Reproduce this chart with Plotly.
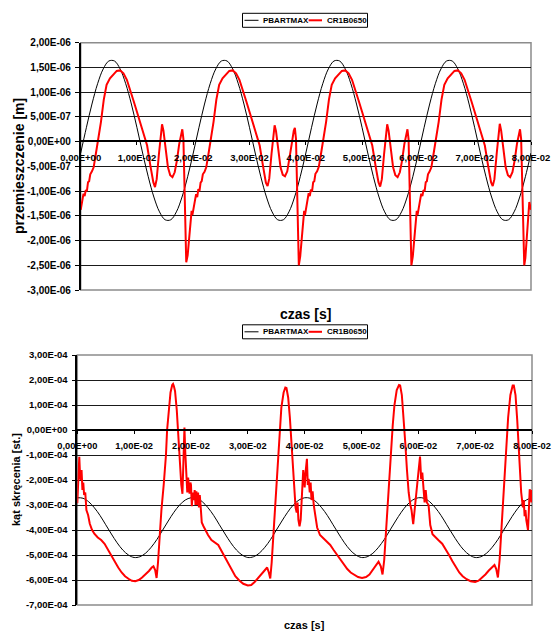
import plotly.graph_objects as go

W, H = 552, 632

# ---------------- data (time in 1e-2 s) ----------------
# top chart: displacement [1e-6 m]
blk_top_t = [round(0.1 * i, 1) for i in range(81)]
blk_top_v = [
    -0.23, 0.28, 0.76, 1.17, 1.47, 1.63, 1.63, 1.47, 1.17, 0.76, 0.28, -0.23, -0.71, -1.12, -1.42, -1.58, -1.58, -1.42, -1.12, -0.71,
    -0.23, 0.28, 0.76, 1.17, 1.47, 1.63, 1.63, 1.47, 1.17, 0.76, 0.28, -0.23, -0.71, -1.12, -1.42, -1.58, -1.58, -1.42, -1.12, -0.71,
    -0.23, 0.28, 0.76, 1.17, 1.47, 1.63, 1.63, 1.47, 1.17, 0.76, 0.28, -0.23, -0.71, -1.12, -1.42, -1.58, -1.58, -1.42, -1.12, -0.71,
    -0.23, 0.28, 0.76, 1.17, 1.47, 1.63, 1.63, 1.47, 1.17, 0.76, 0.28, -0.23, -0.71, -1.12, -1.42, -1.58, -1.58, -1.42, -1.12, -0.71,
    -0.23]

red_top = [
    (0.00, -1.38), (0.03, -1.12), (0.05, -1.05), (0.07, -1.10), (0.09, -0.98), (0.11, -1.00), (0.13, -0.82), (0.15, -0.80),
    (0.17, -0.66), (0.20, -0.60), (0.23, -0.52), (0.27, -0.24), (0.31, 0.02), (0.36, 0.40), (0.41, 0.85), (0.46, 1.15),
    (0.52, 1.28), (0.58, 1.36), (0.64, 1.43), (0.70, 1.44), (0.76, 1.38), (0.82, 1.25), (0.88, 1.05), (0.94, 0.82),
    (1.00, 0.60), (1.06, 0.38), (1.12, 0.16), (1.18, -0.08), (1.24, -0.50), (1.29, -0.82), (1.32, -0.92), (1.35, -0.76),
    (1.39, -0.25), (1.42, 0.15), (1.445, 0.35), (1.47, 0.22), (1.51, -0.20), (1.55, -0.52), (1.59, -0.68), (1.63, -0.72),
    (1.67, -0.62), (1.71, -0.38), (1.75, -0.05), (1.785, 0.20), (1.805, 0.25), (1.825, 0.05), (1.85, -1.30), (1.875, -2.44),
    (1.90, -2.30), (1.93, -1.90), (1.95, -1.55), (1.97, -1.40), (1.985, -1.48),
    (2.00, -1.38), (2.03, -1.12), (2.05, -1.06), (2.07, -1.12), (2.09, -0.96), (2.11, -1.00), (2.13, -0.83), (2.15, -0.80),
    (2.17, -0.66), (2.20, -0.61), (2.23, -0.52), (2.27, -0.25), (2.31, 0.02), (2.36, 0.40), (2.41, 0.85), (2.46, 1.15),
    (2.52, 1.28), (2.58, 1.36), (2.64, 1.43), (2.70, 1.44), (2.76, 1.38), (2.82, 1.25), (2.88, 1.05), (2.94, 0.82),
    (3.00, 0.60), (3.06, 0.38), (3.12, 0.16), (3.18, -0.08), (3.24, -0.50), (3.29, -0.83), (3.32, -0.90), (3.35, -0.75),
    (3.39, -0.25), (3.42, 0.14), (3.445, 0.33), (3.47, 0.21), (3.51, -0.20), (3.55, -0.52), (3.59, -0.67), (3.63, -0.70),
    (3.67, -0.60), (3.71, -0.36), (3.75, -0.04), (3.785, 0.22), (3.805, 0.28), (3.825, 0.05), (3.85, -1.35), (3.875, -2.50),
    (3.90, -2.32), (3.93, -1.90), (3.95, -1.55), (3.97, -1.40), (3.985, -1.48),
    (4.00, -1.38), (4.03, -1.12), (4.05, -1.04), (4.07, -1.10), (4.09, -0.97), (4.11, -1.01), (4.13, -0.82), (4.15, -0.80),
    (4.17, -0.65), (4.20, -0.60), (4.23, -0.51), (4.27, -0.24), (4.31, 0.02), (4.36, 0.40), (4.41, 0.85), (4.46, 1.15),
    (4.52, 1.28), (4.58, 1.36), (4.64, 1.43), (4.70, 1.44), (4.76, 1.38), (4.82, 1.25), (4.88, 1.05), (4.94, 0.82),
    (5.00, 0.60), (5.06, 0.38), (5.12, 0.16), (5.18, -0.08), (5.24, -0.50), (5.29, -0.82), (5.32, -0.91), (5.35, -0.76),
    (5.39, -0.25), (5.42, 0.15), (5.445, 0.35), (5.47, 0.22), (5.51, -0.20), (5.55, -0.52), (5.59, -0.68), (5.63, -0.72),
    (5.67, -0.62), (5.71, -0.38), (5.75, -0.05), (5.785, 0.20), (5.805, 0.25), (5.825, 0.05), (5.85, -1.35), (5.875, -2.50),
    (5.90, -2.32), (5.93, -1.90), (5.95, -1.55), (5.97, -1.40), (5.985, -1.48),
    (6.00, -1.38), (6.03, -1.12), (6.05, -1.05), (6.07, -1.10), (6.09, -0.98), (6.11, -1.00), (6.13, -0.82), (6.15, -0.80),
    (6.17, -0.66), (6.20, -0.60), (6.23, -0.52), (6.27, -0.24), (6.31, 0.02), (6.36, 0.40), (6.41, 0.85), (6.46, 1.15),
    (6.52, 1.28), (6.58, 1.36), (6.64, 1.43), (6.70, 1.44), (6.76, 1.38), (6.82, 1.25), (6.88, 1.05), (6.94, 0.82),
    (7.00, 0.60), (7.06, 0.38), (7.12, 0.16), (7.18, -0.08), (7.24, -0.50), (7.29, -0.82), (7.32, -0.90), (7.35, -0.76),
    (7.39, -0.25), (7.42, 0.16), (7.445, 0.36), (7.47, 0.22), (7.51, -0.20), (7.55, -0.52), (7.59, -0.68), (7.63, -0.72),
    (7.67, -0.62), (7.71, -0.38), (7.75, -0.05), (7.785, 0.20), (7.805, 0.25), (7.825, 0.05), (7.85, -1.35), (7.88, -2.50),
    (7.90, -2.35), (7.93, -1.90), (7.95, -1.45), (7.97, -1.22), (7.985, -1.30), (8.00, -1.38)]

# bottom chart: twist angle [1e-4 deg]
blk_bot_t = [round(0.1 * i, 1) for i in range(81)]
blk_bot_v = [
    -2.71, -2.73, -2.87, -3.11, -3.42, -3.79, -4.16, -4.51, -4.80, -5.00, -5.10, -5.07, -4.93, -4.69, -4.38, -4.01, -3.64, -3.29, -3.00, -2.80,
    -2.71, -2.73, -2.87, -3.11, -3.42, -3.79, -4.16, -4.51, -4.80, -5.00, -5.10, -5.07, -4.93, -4.69, -4.38, -4.01, -3.64, -3.29, -3.00, -2.80,
    -2.71, -2.73, -2.87, -3.11, -3.42, -3.79, -4.16, -4.51, -4.80, -5.00, -5.10, -5.07, -4.93, -4.69, -4.38, -4.01, -3.64, -3.29, -3.00, -2.80,
    -2.71, -2.73, -2.87, -3.11, -3.42, -3.79, -4.16, -4.51, -4.80, -5.00, -5.10, -5.07, -4.93, -4.69, -4.38, -4.01, -3.64, -3.29, -3.00, -2.80,
    -2.71]

red_bot = [
    (0.00, -2.93), (0.02, -2.00), (0.035, -1.07), (0.05, -1.90), (0.06, -2.00), (0.075, -1.60), (0.09, -2.40), (0.105, -2.10),
    (0.12, -2.60), (0.14, -2.50), (0.16, -3.20), (0.19, -3.40), (0.22, -3.75), (0.26, -4.00), (0.30, -4.15), (0.36, -4.30),
    (0.42, -4.40), (0.48, -4.55), (0.54, -4.80), (0.60, -5.00), (0.66, -5.25), (0.72, -5.50), (0.78, -5.70), (0.84, -5.85),
    (0.90, -5.95), (0.96, -6.03), (1.02, -6.05), (1.08, -6.00), (1.14, -5.90), (1.20, -5.78), (1.26, -5.64), (1.31, -5.50),
    (1.34, -5.45), (1.37, -5.60), (1.395, -5.92), (1.42, -5.30), (1.45, -4.10), (1.48, -3.20), (1.52, -2.20), (1.56, -1.00),
    (1.58, 0.00), (1.61, 0.90), (1.64, 1.50), (1.67, 1.80), (1.685, 1.84), (1.70, 1.75), (1.72, 1.55), (1.75, 0.80),
    (1.775, -0.30), (1.805, -1.30), (1.83, -2.20), (1.85, -2.55), (1.865, -1.20), (1.885, 0.10), (1.90, -0.90), (1.915, -1.60),
    (1.935, -2.50), (1.95, -1.90), (1.965, -2.30), (1.975, -2.55), (1.99, -2.10),
    (2.00, -2.20), (2.015, -3.05), (2.03, -2.50), (2.05, -2.80), (2.065, -2.40), (2.08, -3.00), (2.095, -2.45), (2.11, -3.00),
    (2.125, -2.50), (2.14, -3.10), (2.155, -2.60), (2.17, -3.05), (2.19, -3.70), (2.22, -3.85), (2.26, -4.05), (2.30, -4.20),
    (2.36, -4.40), (2.42, -4.50), (2.48, -4.60), (2.54, -4.85), (2.60, -5.10), (2.66, -5.40), (2.72, -5.65), (2.78, -5.85),
    (2.85, -6.02), (2.92, -6.15), (3.00, -6.22), (3.06, -6.20), (3.12, -6.08), (3.18, -5.92), (3.24, -5.75), (3.30, -5.58),
    (3.34, -5.50), (3.37, -5.70), (3.395, -5.94), (3.42, -5.30), (3.45, -4.20), (3.48, -3.00), (3.51, -2.10), (3.54, -1.00),
    (3.56, 0.00), (3.59, 0.90), (3.63, 1.50), (3.66, 1.70), (3.68, 1.68), (3.71, 1.30), (3.74, 0.50), (3.77, -0.60),
    (3.80, -2.00), (3.82, -2.80), (3.84, -3.10), (3.86, -3.30), (3.875, -2.90), (3.89, -3.60), (3.91, -3.85), (3.93, -3.60),
    (3.955, -2.50), (3.975, -1.60), (3.99, -1.90),
    (4.00, -2.30), (4.02, -1.60), (4.04, -1.15), (4.055, -2.20), (4.07, -1.95), (4.09, -2.50), (4.105, -2.10), (4.12, -2.80),
    (4.14, -2.45), (4.16, -3.00), (4.19, -3.50), (4.22, -3.90), (4.27, -4.20), (4.33, -4.33), (4.39, -4.45), (4.45, -4.60),
    (4.51, -4.80), (4.57, -5.00), (4.63, -5.20), (4.69, -5.40), (4.75, -5.56), (4.81, -5.70), (4.87, -5.80), (4.94, -5.88),
    (5.01, -5.92), (5.08, -5.88), (5.14, -5.78), (5.20, -5.60), (5.26, -5.40), (5.30, -5.27), (5.34, -5.45), (5.37, -5.78),
    (5.40, -5.20), (5.43, -4.10), (5.46, -2.90), (5.49, -1.80), (5.52, -0.80), (5.55, 0.20), (5.58, 1.00), (5.62, 1.60),
    (5.66, 1.80), (5.68, 1.78), (5.71, 1.40), (5.74, 0.60), (5.77, -0.50), (5.80, -1.60), (5.83, -2.50), (5.86, -3.00),
    (5.88, -3.20), (5.91, -3.77), (5.94, -3.00), (5.97, -2.25), (5.99, -1.70),
    (6.01, -1.50), (6.03, -1.06), (6.05, -1.97), (6.07, -1.70), (6.09, -2.40), (6.11, -2.90), (6.13, -2.40), (6.15, -2.90),
    (6.18, -3.00), (6.21, -3.80), (6.25, -4.17), (6.30, -4.30), (6.36, -4.42), (6.42, -4.55), (6.48, -4.75), (6.54, -5.00),
    (6.60, -5.25), (6.66, -5.50), (6.72, -5.70), (6.78, -5.85), (6.85, -5.97), (6.92, -6.05), (7.00, -6.08), (7.06, -6.03),
    (7.12, -5.92), (7.18, -5.78), (7.24, -5.62), (7.30, -5.48), (7.34, -5.40), (7.37, -5.55), (7.40, -5.90), (7.43, -5.20),
    (7.46, -4.00), (7.49, -2.90), (7.52, -1.80), (7.55, -0.60), (7.58, 0.50), (7.62, 1.40), (7.66, 1.78), (7.68, 1.78),
    (7.71, 1.40), (7.74, 0.40), (7.76, -0.60), (7.78, -1.50), (7.81, -2.50), (7.84, -3.10), (7.855, -2.80), (7.87, -3.45),
    (7.885, -3.20), (7.90, -3.60), (7.93, -4.00), (7.945, -3.20), (7.96, -2.37), (7.975, -2.60), (7.99, -2.90), (8.00, -2.40)]

series_names = ["PBARTMAX", "CR1B0650"]

x_tickvals = [0.00, 0.01, 0.02, 0.03, 0.04, 0.05, 0.06, 0.07, 0.08]
x_ticktext = ["0,00E+00", "1,00E-02", "2,00E-02", "3,00E-02", "4,00E-02", "5,00E-02", "6,00E-02", "7,00E-02", "8,00E-02"]

top_y_tickvals = [-3.0e-6, -2.5e-6, -2.0e-6, -1.5e-6, -1.0e-6, -5.0e-7, 0.0, 5.0e-7, 1.0e-6, 1.5e-6, 2.0e-6]
top_y_ticktext = ["-3,00E-06", "-2,50E-06", "-2,00E-06", "-1,50E-06", "-1,00E-06", "-5,00E-07",
                  "0,00E+00", "5,00E-07", "1,00E-06", "1,50E-06", "2,00E-06"]

bot_y_tickvals = [-7e-4, -6e-4, -5e-4, -4e-4, -3e-4, -2e-4, -1e-4, 0.0, 1e-4, 2e-4, 3e-4]
bot_y_ticktext = ["-7,00E-04", "-6,00E-04", "-5,00E-04", "-4,00E-04", "-3,00E-04", "-2,00E-04",
                  "-1,00E-04", "0,00E+00", "1,00E-04", "2,00E-04", "3,00E-04"]

top_ylabel = "przemieszczenie [m]"
bot_ylabel = "kąt skręcenia [st.]"
xlabel = "czas [s]"

# ---------------- figure ----------------
def fx(px):
    return px / W

def fy(py):
    return 1 - py / H

FONT = "Liberation Sans, Arial, sans-serif"
BLACK = "#000000"
RED = "#ff0000"

fig = go.Figure()

fig.add_trace(go.Scatter(x=[t * 0.01 for t in blk_top_t], y=[v * 1e-6 for v in blk_top_v],
                         mode="lines", line=dict(color=BLACK, width=1, shape="spline"),
                         name=series_names[0], showlegend=False, xaxis="x", yaxis="y"))
fig.add_trace(go.Scatter(x=[p[0] * 0.01 for p in red_top], y=[p[1] * 1e-6 for p in red_top],
                         mode="lines", line=dict(color=RED, width=2),
                         name=series_names[1], showlegend=False, xaxis="x", yaxis="y"))
fig.add_trace(go.Scatter(x=[t * 0.01 for t in blk_bot_t], y=[v * 1e-4 for v in blk_bot_v],
                         mode="lines", line=dict(color=BLACK, width=1, shape="spline"),
                         name=series_names[0], showlegend=False, xaxis="x2", yaxis="y2"))
fig.add_trace(go.Scatter(x=[p[0] * 0.01 for p in red_bot], y=[p[1] * 1e-4 for p in red_bot],
                         mode="lines", line=dict(color=RED, width=2),
                         name=series_names[1], showlegend=False, xaxis="x2", yaxis="y2"))

top_dom_x = [fx(80.7), fx(531)]
top_dom_y = [fy(290), fy(42.7)]
bot_dom_x = [fx(77.3), fx(532)]
bot_dom_y = [fy(605), fy(355)]

ytickfont = dict(family=FONT, size=10, color=BLACK, weight="bold")
ytickfont_b = dict(family=FONT, size=9.5, color=BLACK, weight="bold")
xtickfont = dict(family=FONT, size=9.5, color=BLACK, weight="bold")
xtickfont_b = dict(family=FONT, size=9.3, color=BLACK, weight="bold")

common_x = dict(range=[0, 0.08], tickvals=x_tickvals, ticktext=x_ticktext, showgrid=False, zeroline=False,
                showline=True, linecolor=BLACK, linewidth=2, ticks="outside", ticklen=3, tickwidth=1,
                tickcolor=BLACK, anchor="free", ticklabelstandoff=4, automargin=False)
common_y = dict(showgrid=True, gridcolor="#1a1a1a", gridwidth=1, zeroline=False, showline=True, linecolor=BLACK,
                linewidth=1.5, ticks="outside", ticklen=4, tickcolor=BLACK, ticklabelstandoff=2, automargin=False)
fig.update_layout(
    template="none",
    xaxis=dict(domain=top_dom_x, position=fy(141.3), tickfont=xtickfont, **common_x),
    yaxis=dict(domain=top_dom_y, anchor="x", range=[-3e-6, 2e-6], tickvals=top_y_tickvals, ticktext=top_y_ticktext,
               tickfont=ytickfont, **common_y),
    xaxis2=dict(domain=bot_dom_x, position=fy(430), tickfont=xtickfont_b, **common_x),
    yaxis2=dict(domain=bot_dom_y, anchor="x2", range=[-7e-4, 3e-4], tickvals=bot_y_tickvals, ticktext=bot_y_ticktext,
                tickfont=ytickfont_b, **common_y),
)

shapes = []
# plot-area borders (gray)
for xr, yr in (("x domain", "y domain"), ("x2 domain", "y2 domain")):
    shapes.append(dict(type="rect", xref=xr, yref=yr, x0=0, x1=1, y0=0, y1=1,
                       line=dict(color="#8c8c8c", width=1.5), layer="below"))

annotations = []

def add_legend(cy):
    shapes.append(dict(type="rect", xref="paper", yref="paper", x0=fx(242.5), x1=fx(367.5),
                       y0=fy(cy + 7), y1=fy(cy - 7), line=dict(color=BLACK, width=1), fillcolor="white"))
    shapes.append(dict(type="line", xref="paper", yref="paper", x0=fx(244.5), x1=fx(258.5), y0=fy(cy), y1=fy(cy),
                       line=dict(color=BLACK, width=1)))
    shapes.append(dict(type="line", xref="paper", yref="paper", x0=fx(308.6), x1=fx(322), y0=fy(cy), y1=fy(cy),
                       line=dict(color=RED, width=2)))
    for xp, txt in ((261, series_names[0]), (324.5, series_names[1])):
        annotations.append(dict(xref="paper", yref="paper", x=fx(xp), y=fy(cy), text="<b>" + txt + "</b>",
                                showarrow=False, xanchor="left", yanchor="middle",
                                font=dict(family=FONT, size=8, color=BLACK)))

add_legend(20.3)
add_legend(331.8)

annotations.append(dict(xref="paper", yref="paper", x=fx(19), y=fy(166), text="<b>" + top_ylabel + "</b>",
                        textangle=-90, showarrow=False, xanchor="center", yanchor="middle",
                        font=dict(family=FONT, size=14, color=BLACK)))
annotations.append(dict(xref="paper", yref="paper", x=fx(305.5), y=fy(313.5), text="<b>" + xlabel + "</b>",
                        showarrow=False, xanchor="center", yanchor="middle",
                        font=dict(family=FONT, size=14, color=BLACK)))
annotations.append(dict(xref="paper", yref="paper", x=fx(16), y=fy(480), text="<b>" + bot_ylabel + "</b>",
                        textangle=-90, showarrow=False, xanchor="center", yanchor="middle",
                        font=dict(family=FONT, size=11, color=BLACK)))
annotations.append(dict(xref="paper", yref="paper", x=fx(304), y=fy(624.5), text="<b>" + xlabel + "</b>",
                        showarrow=False, xanchor="center", yanchor="middle",
                        font=dict(family=FONT, size=11, color=BLACK)))

fig.update_layout(width=W, height=H, margin=dict(l=0, r=0, t=0, b=0, pad=0), paper_bgcolor="white",
                  plot_bgcolor="white", showlegend=False, shapes=shapes, annotations=annotations,
                  font=dict(family=FONT, color=BLACK))

# remove the default page margin so the 552x632 figure fills the window exactly
fig.write_html("out.html", config={"displayModeBar": False},
               post_script="document.body.style.margin='0';document.body.style.overflow='hidden';")
